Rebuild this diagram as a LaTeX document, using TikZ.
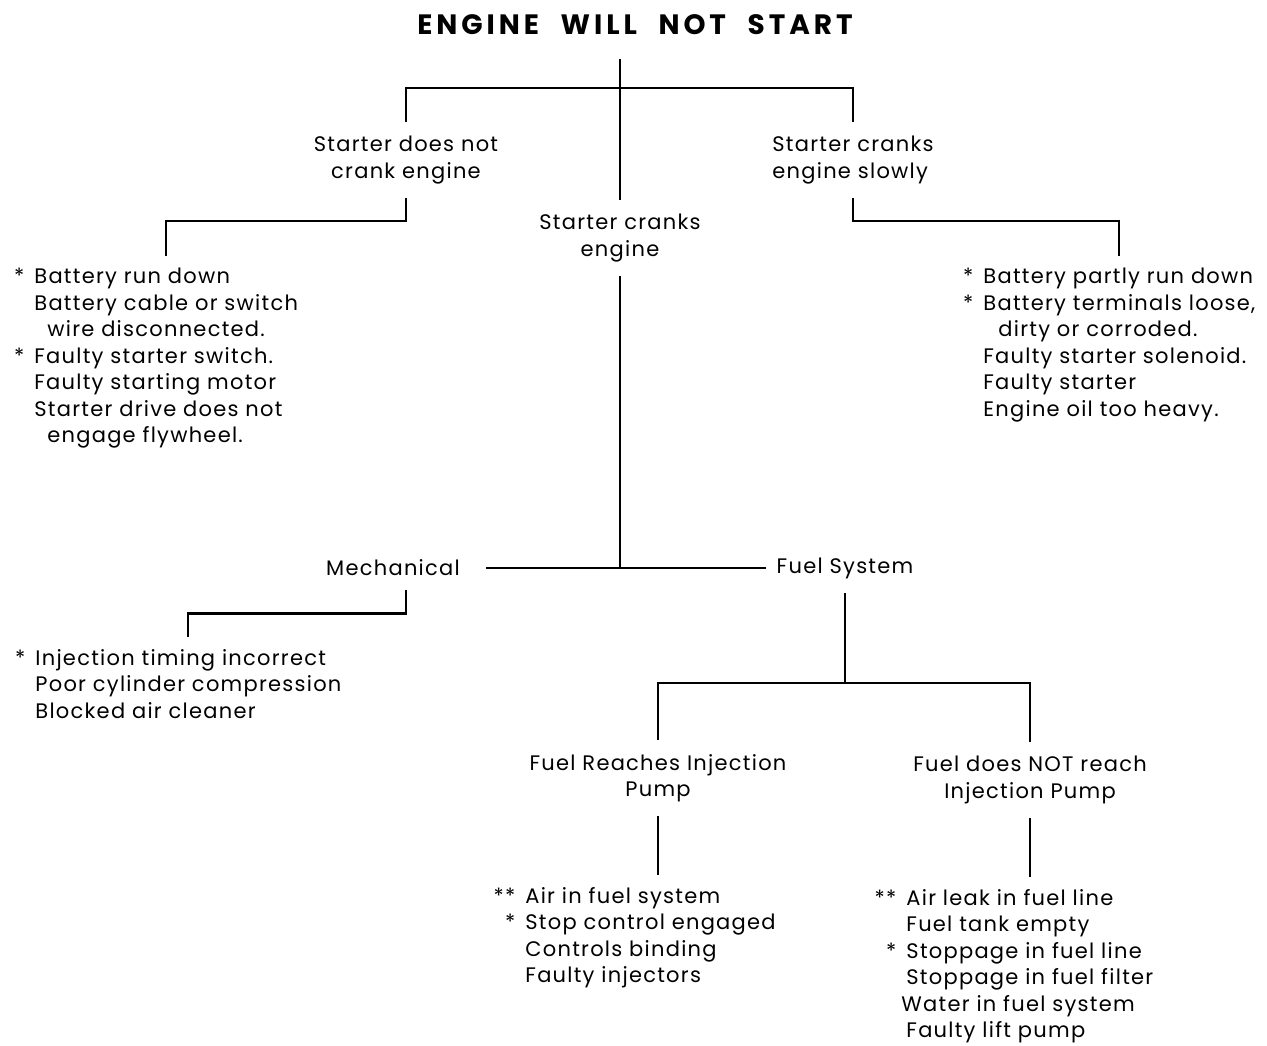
\documentclass[tikz,border=0pt]{standalone}
\usepackage{fontspec}
\setmainfont[LetterSpace=6]{Poppins}
\newfontfamily\titlefont[LetterSpace=14, WordSpace=2.2]{Poppins}
\usetikzlibrary{positioning,calc}
\newcommand{\astk}[1]{\llap{#1\hspace{5pt}}}

\begin{document}
\begin{tikzpicture}[x=0.5pt,y=-0.5pt,
    lbl/.style={align=center, inner xsep=2pt, inner ysep=7pt, font=\fontsize{10.5}{13.25}\selectfont},
    causes/.style={align=left, inner xsep=0pt, inner ysep=6pt, font=\fontsize{10.5}{13.25}\selectfont},
    link/.style={line width=1pt}]
    \useasboundingbox (0,0) rectangle (1267,1045);

    % Title and first split
    \node[font=\titlefont\fontsize{14}{16}\selectfont\bfseries, inner ysep=12pt] (title) at (635,25) {ENGINE WILL NOT START};
    \node[lbl] (nocrank) at (406,160) {Starter does not\\crank engine};
    \node[lbl] (cranks) at (620,238) {Starter cranks\\engine};
    \node[lbl, align=left] (slowly) at (853,160) {Starter cranks\\engine slowly};
    \coordinate (split) at (620,88);
    \draw[link] (title.south -| cranks.north) -- (cranks.north);
    \draw[link] (nocrank.north) |- (split) -| (slowly.north);

    % Starter does not crank engine
    \node[causes, anchor=north west] (nocranklist) at (34,256) {%
        \astk{*}Battery run down\\
        Battery cable or switch\\
        \hspace*{6.5pt}wire disconnected.\\
        \astk{*}Faulty starter switch.\\
        Faulty starting motor\\
        Starter drive does not\\
        \hspace*{6.5pt}engage flywheel.};
    \draw[link] (nocrank.south) -- ++(0,23) -| (nocranklist.north);

    % Starter cranks engine slowly
    \node[causes, anchor=north west] (slowlylist) at (983,256) {%
        \astk{*}Battery partly run down\\
        \astk{*}Battery terminals loose,\\
        \hspace*{7.5pt}dirty or corroded.\\
        Faulty starter solenoid.\\
        Faulty starter\\
        Engine oil too heavy.};
    \draw[link] (slowly.south) -- ++(0,23) -| (slowlylist.north);

    % Starter cranks engine
    \node[lbl, inner xsep=13pt] (mech) at (393,568) {Mechanical};
    \node[lbl, inner xsep=5pt] (fuel) at (845,568) {Fuel System};
    \draw[link] (cranks.south) -- (cranks.south |- mech.east);
    \draw[link] (mech.east) -- (fuel.west);

    % Mechanical
    \node[causes, anchor=north west] (mechlist) at (35,637) {%
        \astk{*}Injection timing incorrect\\
        Poor cylinder compression\\
        Blocked air cleaner};
    \draw[link] ([xshift=6.5pt]mech.south) -- ++(0,23) -| (mechlist.north);

    % Fuel system
    \node[lbl] (reach) at (658,778) {Fuel Reaches Injection\\Pump};
    \node[lbl] (noreach) at (1030,780) {Fuel does NOT reach\\Injection Pump};
    \draw[link] (fuel.south) -- ++(0,90) coordinate (fuelsplit);
    \draw[link] (reach.north) |- (fuelsplit) -| (noreach.north);

    \node[causes, anchor=north west] (reachlist) at (525,875) {%
        \astk{**}Air in fuel system\\
        \astk{*}Stop control engaged\\
        Controls binding\\
        Faulty injectors};
    \node[causes, anchor=north west] (noreachlist) at (906,877) {%
        \astk{**}Air leak in fuel line\\
        Fuel tank empty\\
        \astk{*}Stoppage in fuel line\\
        Stoppage in fuel filter\\
        \hspace*{-2.5pt}Water in fuel system\\
        Faulty lift pump};
    \draw[link] (reach.south) -- (reach.south |- reachlist.north);
    \draw[link] (noreach.south) -- (noreach.south |- noreachlist.north);
\end{tikzpicture}
\end{document}
